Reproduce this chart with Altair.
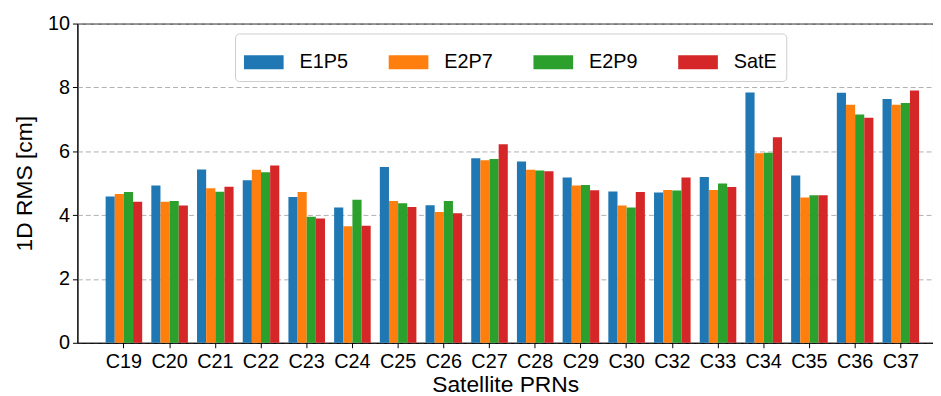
import altair as alt
import pandas as pd

prns = ["C19", "C20", "C21", "C22", "C23", "C24", "C25", "C26", "C27",
        "C28", "C29", "C30", "C32", "C33", "C34", "C35", "C36", "C37"]
series = ["E1P5", "E2P7", "E2P9", "SatE"]
colors = ["#1f77b4", "#ff7f0e", "#2ca02c", "#d62728"]

e1p5 = [4.58, 4.93, 5.43, 5.09, 4.57, 4.24, 5.51, 4.31, 5.78, 5.68, 5.18, 4.74, 4.71, 5.19, 7.84, 5.24, 7.83, 7.64]
e2p7 = [4.66, 4.42, 4.84, 5.42, 4.72, 3.65, 4.44, 4.10, 5.72, 5.42, 4.93, 4.30, 4.79, 4.79, 5.94, 4.55, 7.46, 7.46]
e2p9 = [4.72, 4.44, 4.73, 5.34, 3.95, 4.48, 4.37, 4.44, 5.76, 5.40, 4.94, 4.24, 4.77, 4.99, 5.95, 4.62, 7.15, 7.51]
sate = [4.42, 4.30, 4.89, 5.55, 3.89, 3.67, 4.25, 4.06, 6.22, 5.37, 4.78, 4.72, 5.18, 4.88, 6.44, 4.62, 7.05, 7.90]

values = {"E1P5": e1p5, "E2P7": e2p7, "E2P9": e2p9, "SatE": sate}
rows = []
for s in series:
    for p, v in zip(prns, values[s]):
        rows.append({"prn": p, "series": s, "rms": v})
df = pd.DataFrame(rows)

FONT = "Liberation Sans"

chart = alt.Chart(df).mark_bar().encode(
    x=alt.X("prn:N", sort=prns, title="Satellite PRNs",
            scale=alt.Scale(paddingInner=0.2, paddingOuter=0.461, align=0.67),
            axis=alt.Axis(labelAngle=0, labelFontSize=20, titleFontSize=23,
                          titleFontWeight="normal",
                          tickSize=5, labelPadding=4, titlePadding=2,
                          domainColor="black", tickColor="black",
                          labelColor="black", titleColor="black", grid=False)),
    xOffset=alt.XOffset("series:N", sort=series, scale=alt.Scale(paddingInner=0, paddingOuter=0)),
    y=alt.Y("rms:Q", title="1D RMS [cm]",
            scale=alt.Scale(domain=[0, 10], nice=False),
            axis=alt.Axis(values=[0, 2, 4, 6, 8, 10], labelFontSize=20, titleFontSize=23,
                          titleFontWeight="normal",
                          tickSize=5, labelPadding=3, titlePadding=11,
                          domainColor="black", tickColor="black",
                          labelColor="black", titleColor="black",
                          grid=True, gridDash=[5, 3], gridColor="#b0b0b0", gridWidth=1)),
    color=alt.Color("series:N", sort=series,
                    scale=alt.Scale(domain=series, range=colors),
                    legend=alt.Legend(orient="none", legendX=159, legendY=10,
                                      direction="horizontal", columns=4, title=None,
                                      symbolType="M-1,-0.35L1,-0.35L1,0.35L-1,0.35Z",
                                      symbolSize=1600, symbolStrokeWidth=0, symbolOpacity=1,
                                      labelFontSize=20, labelOffset=16, columnPadding=41,
                                      padding=9, strokeColor="#cccccc", cornerRadius=4,
                                      fillColor="white", labelColor="black")),
).properties(
    width=863, height=322,
    padding={"left": 70, "top": 14, "right": 0, "bottom": 54},
    autosize=alt.AutoSizeParams(type="none"),
).configure(font=FONT).configure_view(stroke="black", strokeWidth=1)

chart.save("out.html", embed_options={"renderer": "svg", "actions": False})
